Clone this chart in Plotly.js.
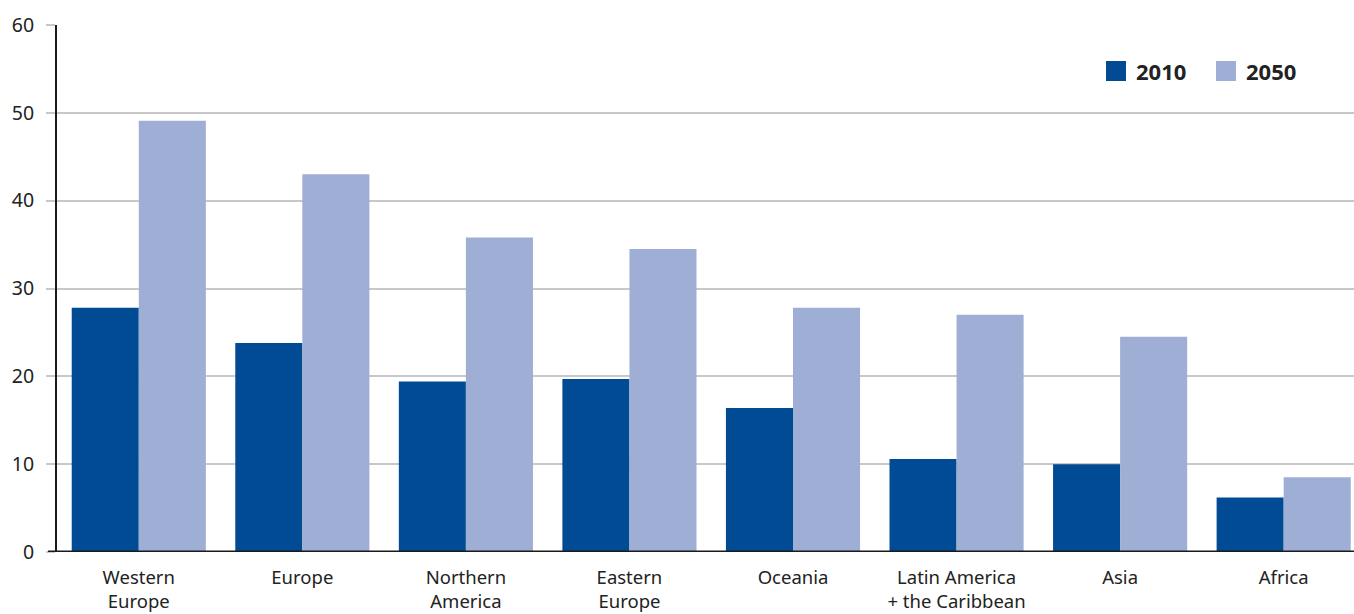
<!DOCTYPE html>
<html>
<head>
<meta charset="utf-8">
<script src="https://cdn.plot.ly/plotly-3.0.1.min.js"></script>
<style>html,body{margin:0;padding:0;background:#fff;}#chart{width:1354px;height:614px;}</style>
</head>
<body>
<div id="chart"></div>
<script>
const categories = ["Western<br>Europe", "Europe", "Northern<br>America", "Eastern<br>Europe", "Oceania", "Latin America<br>+ the Caribbean", "Asia", "Africa"];
const values2010 = [27.8, 23.8, 19.4, 19.7, 16.4, 10.6, 10.0, 6.2];
const values2050 = [49.1, 43.0, 35.8, 34.5, 27.8, 27.0, 24.5, 8.5];
const seriesNames = ["2010", "2050"];
const seriesColors = ["#004B93", "#9EAED4"];
const yTicks = [0, 10, 20, 30, 40, 50, 60];

const traces = [
  {type: "bar", name: seriesNames[0], x: categories, y: values2010, marker: {color: seriesColors[0]}, hoverinfo: "skip", showlegend: false},
  {type: "bar", name: seriesNames[1], x: categories, y: values2050, marker: {color: seriesColors[1]}, hoverinfo: "skip", showlegend: false}
];

const W = 1354, H = 614, L = 57, T = 25, B = 62;
const pw = W - L, ph = H - T - B;
function px(x){ return (x - L) / pw; }
function py(y){ return (H - B - y) / ph; }

// manual legend (larger squares, bold labels)
const legendItems = [{x: 1106, tx: 1134}, {x: 1216, tx: 1244}];
const shapes = [];
const annotations = [];
legendItems.forEach((it, i) => {
  shapes.push({type: "rect", xref: "paper", yref: "paper", x0: px(it.x), x1: px(it.x + 20), y0: py(81), y1: py(61),
               fillcolor: seriesColors[i], line: {width: 0}});
  annotations.push({xref: "paper", yref: "paper", x: px(it.tx), y: py(71), xanchor: "left", yanchor: "middle",
                    text: "<b>" + seriesNames[i] + "</b>", showarrow: false,
                    font: {size: 22, color: "#222", family: "Noto Sans, sans-serif"}});
});
// zero line extended left like tick marks
shapes.push({type: "line", xref: "paper", yref: "y", x0: -9 / pw, x1: 1, y0: 0, y1: 0,
             line: {color: "#1a1a1a", width: 3}, layer: "above"});

const layout = {
  width: W, height: H,
  margin: {l: L, r: 0, t: T, b: B, pad: 0},
  paper_bgcolor: "#fff", plot_bgcolor: "#fff",
  font: {family: "Noto Sans, sans-serif", size: 18, color: "#222"},
  barmode: "group",
  bargap: 0.18,
  bargroupgap: 0,
  showlegend: false,
  shapes: shapes,
  annotations: annotations,
  xaxis: {
    type: "category",
    range: [-0.5, 7.43],
    showgrid: false, zeroline: false,
    showline: false,
    ticks: "", tickfont: {size: 18.5, color: "#222"},
    ticklabelstandoff: 12,
    fixedrange: true
  },
  yaxis: {
    range: [0, 60],
    tickvals: yTicks,
    ticktext: yTicks.map(String),
    showgrid: true, gridcolor: "#c8c8c8", gridwidth: 2,
    zeroline: false,
    showline: true, linecolor: "#1a1a1a", linewidth: 2,
    ticks: "outside", ticklen: 9, tickwidth: 2, tickcolor: "#c8c8c8",
    ticklabelstandoff: 8,
    tickfont: {size: 19.5, color: "#222"},
    fixedrange: true
  }
};

Plotly.newPlot("chart", traces, layout, {displayModeBar: false, staticPlot: true});
</script>
</body>
</html>
